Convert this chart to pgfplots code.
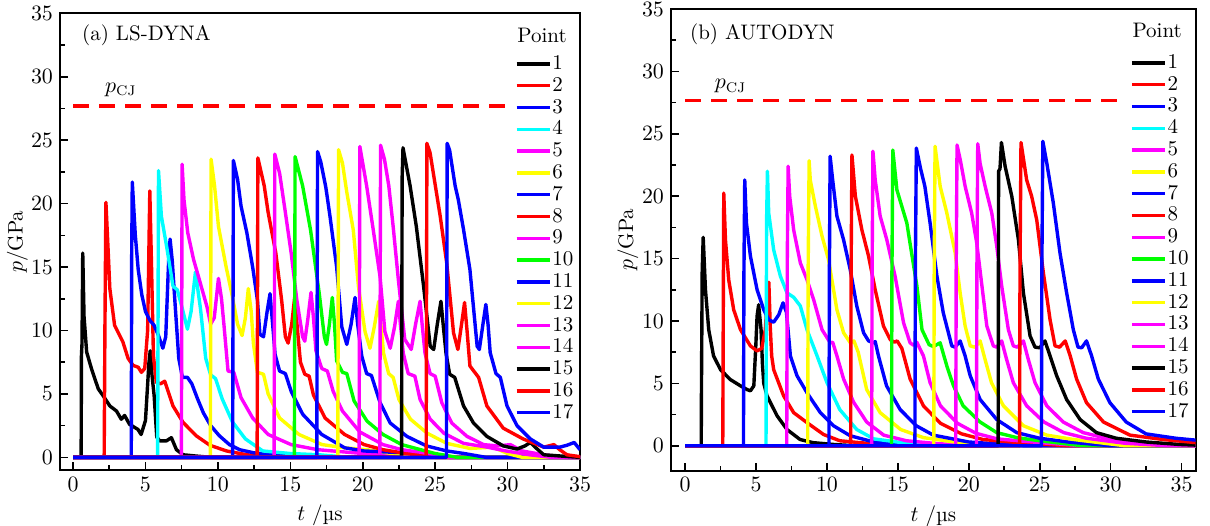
\documentclass[border=0pt]{standalone}
\usepackage{pgfplots}
\pgfplotsset{compat=1.18}
\definecolor{cR}{RGB}{255,0,0}
\definecolor{cB}{RGB}{0,0,255}
\definecolor{cC}{RGB}{0,255,255}
\definecolor{cM}{RGB}{255,0,255}
\definecolor{cY}{RGB}{255,255,0}
\definecolor{cG}{RGB}{0,255,0}
\pgfplotsset{
 panel/.style={
  scale only axis, anchor=south west, ymax=35,
  xtick={0,5,...,35}, ytick={0,5,...,35},
  minor x tick num=1, minor y tick num=1,
  tick align=inside, xtick pos=left, ytick pos=left,
  major tick length=4pt, minor tick length=2.5pt,
  every tick/.style={black, line width=0.8pt},
  axis line style={line width=1pt},
  font=\fontsize{10.5}{12}\selectfont,
  tick label style={font=\fontsize{11}{13}\selectfont},
  xlabel={$t$ /µs}, ylabel={$p$/GPa},
  every axis y label/.style={at={(rel axis cs:-0.082,0.5)}, rotate=90, anchor=center},
  legend style={draw=none, fill=none, anchor=north east, inner sep=0pt, row sep=0.4pt,
    nodes={inner sep=0.5pt, text height=7.5pt, text depth=2pt},
    font=\fontsize{10.5}{12}\selectfont},
  legend cell align=left,
  legend image code/.code={\draw[##1] (0pt,0pt) -- (16.5pt,0pt);},
  every axis plot/.append style={line width=1.7pt, line join=round},
 },
 cj/.style={cR, line width=1.7pt, dash pattern=on 7.8pt off 5.2pt, forget plot},
}
\begin{document}
\begin{tikzpicture}
\useasboundingbox (0,0) rectangle (605pt,262.5pt);
% ---------------- (a) ----------------
\begin{axis}[panel, at={(30pt,27.5pt)}, width=260pt, height=228.35pt,
  xmin=-0.9, xmax=35, ymin=-1, legend style={at={(0.990,0.913)}}]
\addplot[cj] coordinates {(0,27.7)(29.9,27.7)};
\addplot[black] coordinates {(0,0)(0.56,0)(0.58,8)(0.62,9)(0.67,16.1)(0.76,11.1)(0.94,8.3)(1.27,7.0)(1.74,5.4)(2.08,4.85)(2.54,4.05)(3.0,3.65)(3.33,3.0)(3.56,3.3)(3.9,2.6)(4.48,2.2)(4.7,1.8)(5.0,2.9)(5.24,7.45)(5.33,8.4)(5.45,6.5)(5.6,4.85)(5.78,1.6)(5.98,1.3)(6.45,1.3)(6.79,1.55)(7.14,0.6)(7.6,0.2)(8.5,0.1)(9.5,0)(35,0)};
\addplot[cR] coordinates {(0,0)(2.15,0)(2.2,10)(2.27,20.1)(2.44,15.9)(2.54,13.3)(2.87,10.4)(3.44,9.1)(3.8,7.8)(4.14,7.25)(4.5,7.1)(4.72,6.7)(4.95,7.0)(5.15,10)(5.3,21.0)(5.42,15)(5.55,8)(5.75,5.9)(6.05,5.8)(6.33,6.0)(6.9,4.05)(7.6,2.75)(8.5,1.7)(9.45,0.95)(10.6,0.5)(12,0.2)(14,0)(35,0)};
\addplot[cB] coordinates {(0,0)(4.02,0)(4.05,16)(4.09,21.7)(4.3,17.5)(4.5,14.8)(4.75,12.8)(5.0,11.5)(5.3,10.8)(5.6,10.4)(5.9,9.6)(6.2,8.6)(6.4,9.5)(6.6,15.5)(6.7,17.2)(6.85,15.5)(7.05,12.0)(7.3,7.8)(7.55,6.3)(7.9,6.3)(8.2,5.8)(8.6,4.6)(9.0,3.5)(9.5,2.5)(10.1,1.7)(10.8,1.0)(11.5,0.6)(12.5,0.35)(14,0.2)(16,0.1)(18,0)(35,0)};
\addplot[cC] coordinates {(0,0)(5.84,0)(5.9,22.6)(6.1,19.0)(6.45,16.7)(6.9,13.5)(7.2,13.2)(7.55,11.7)(7.9,10.1)(8.15,11.5)(8.45,14.6)(8.8,11.7)(9.16,7.8)(9.5,6.5)(9.84,6.2)(10.3,4.6)(11.0,2.8)(11.9,1.45)(13.1,0.5)(15,0.3)(17,0.2)(19,0)(35,0)};
\addplot[cM] coordinates {(0,0)(7.48,0)(7.53,23.1)(7.66,20.3)(7.92,17.7)(8.32,15.6)(8.72,14.0)(9.24,11.9)(9.5,10.5)(9.75,11.0)(10.04,14.1)(10.25,12.5)(10.43,10.3)(10.7,6.8)(11.1,6.7)(11.6,4.7)(12.4,3.1)(13.47,1.8)(15.06,1.0)(16.9,0.6)(20,0.3)(24,0)(35,0)};
\addplot[cY] coordinates {(0,0)(9.48,0)(9.53,23.5)(9.77,21.4)(10.04,18.2)(10.57,15.0)(10.96,12.9)(11.36,10.5)(11.67,9.6)(11.9,11.0)(12.1,13.3)(12.3,11.5)(12.45,9.0)(12.73,6.7)(13.15,6.55)(13.47,5.0)(14.26,3.1)(15.6,1.8)(17.2,1.0)(18.75,0.75)(20.3,0.6)(22,0.3)(25,0)(35,0)};
\addplot[cB] coordinates {(0,0)(11.02,0)(11.07,23.4)(11.36,21.9)(11.6,19.8)(12.0,17.7)(12.4,15.0)(12.73,12.4)(12.9,9.7)(13.15,9.5)(13.4,11.5)(13.6,12.9)(13.78,10.5)(13.95,8.1)(14.26,6.8)(14.66,6.6)(15.06,5.2)(15.85,3.4)(17.17,1.8)(18.75,0.75)(20.1,0.5)(24,0.3)(26,0)(35,0)};
\addplot[cR] coordinates {(0,0)(12.71,0)(12.76,23.6)(13.2,21.4)(13.47,19.3)(14.0,16.1)(14.4,12.4)(14.66,9.5)(14.85,9.0)(15.1,10.5)(15.3,12.6)(15.5,10)(15.7,7.5)(16.0,6.55)(16.3,6.4)(16.6,4.9)(17.4,3.1)(18.75,1.8)(20.1,1.0)(21.4,0.6)(23,0.3)(25,0)(35,0)};
\addplot[cM] coordinates {(0,0)(13.88,0)(13.93,23.9)(14.26,22.4)(14.66,19.3)(15.06,16.1)(15.45,12.4)(15.85,9.5)(16.0,9.15)(16.2,10.8)(16.43,13.0)(16.6,11)(16.77,8.4)(17.17,7.0)(17.56,6.8)(17.96,5.2)(18.6,3.65)(19.8,2.0)(21.4,1.0)(22.7,0.6)(24,0.4)(26,0)(35,0)};
\addplot[cG] coordinates {(0,0)(15.28,0)(15.33,23.7)(15.85,21.4)(16.4,17.9)(17.0,12.9)(17.35,9.5)(17.5,8.9)(17.7,10.5)(17.9,12.6)(18.05,10.5)(18.2,7.6)(18.6,6.7)(18.9,6.6)(19.4,4.45)(20.3,2.85)(21.4,1.8)(22.7,1.0)(24,0.6)(25,0.3)(26.5,0)(35,0)};
\addplot[cB] coordinates {(0,0)(16.83,0)(16.88,24.1)(17.1,23.3)(17.45,21.3)(17.74,19.0)(18.2,15.0)(18.55,10.3)(18.9,8.9)(19.2,10.5)(19.47,12.6)(19.65,10.5)(19.93,8.0)(20.27,6.6)(20.6,6.45)(21.2,4.3)(21.9,2.7)(23.05,1.65)(24.4,0.9)(25.8,0.5)(27,0.3)(28.5,0)(35,0)};
\addplot[cY] coordinates {(0,0)(18.28,0)(18.33,24.25)(18.6,23.2)(18.9,20.9)(19.35,17.9)(19.7,13.5)(20.16,9.9)(20.5,8.6)(20.8,10.3)(21.1,12.3)(21.25,10.5)(21.44,8.2)(21.79,6.6)(22.1,6.3)(22.5,4.55)(23.3,3.0)(24.45,1.9)(25.8,1.1)(27.4,0.7)(29,0.8)(30,0.3)(31,0)(35,0)};
\addplot[cM] coordinates {(0,0)(19.75,0)(19.8,24.5)(20.27,21.4)(20.73,17.9)(21.2,14.2)(21.53,9.9)(21.9,8.6)(22.2,10.3)(22.46,12.3)(22.6,10.5)(22.8,8.2)(23.14,6.6)(23.6,6.4)(23.96,4.55)(24.66,3.0)(25.6,1.9)(26.96,1.1)(28.6,0.8)(29.9,0.5)(31.5,0.2)(33,0)(35,0)};
\addplot[cM] coordinates {(0,0)(21.18,0)(21.23,24.6)(21.5,23.5)(21.8,21.4)(22.1,18.2)(22.46,14.0)(22.9,9.3)(23.35,8.5)(23.65,10.5)(23.96,12.3)(24.1,10.5)(24.3,8.2)(24.65,6.6)(25.0,6.4)(25.46,4.3)(26.15,2.7)(27.2,1.65)(28.35,1.0)(29.3,0.9)(30.2,1.0)(31,0.5)(32.5,0.2)(34,0)(35,0)};
\addplot[black] coordinates {(0,0)(22.68,0)(22.72,22)(22.78,24.4)(23.27,21.4)(23.7,18.2)(24.2,13.5)(24.66,8.75)(24.9,8.5)(25.15,10.5)(25.4,12.3)(25.55,10.5)(25.75,8.2)(26.0,6.55)(26.35,6.3)(26.96,4.05)(27.65,2.7)(28.57,1.65)(29.7,0.9)(30.65,0.65)(31.2,0.9)(31.57,1.17)(32.0,0.7)(32.5,0.2)(34.3,0.05)(35,0)};
\addplot[cR] coordinates {(0,0)(24.38,0)(24.43,24.75)(24.65,24.0)(25.35,19.0)(25.8,15.3)(26.27,9.8)(26.57,8.5)(26.8,10.3)(27.03,12.2)(27.2,10)(27.4,7.2)(28.0,6.3)(28.57,4.05)(29.7,2.3)(31.07,1.45)(32.5,0.8)(33.2,1.0)(33.6,0.6)(34.1,0.2)(35,0.05)};
\addplot[cB] coordinates {(0,0)(25.78,0)(25.83,24.75)(26.0,24.2)(26.38,21.4)(26.6,20.3)(26.96,17.95)(27.4,14.8)(27.9,8.75)(28.05,8.5)(28.3,10.5)(28.5,12.05)(28.65,10.5)(28.8,8.25)(29.2,6.6)(29.5,6.3)(29.96,4.05)(30.65,2.5)(31.57,1.45)(32.5,0.8)(33.6,0.8)(34.1,0.95)(34.6,1.17)(35,0.6)};
\legend{1,2,3,4,5,6,7,8,9,10,11,12,13,14,15,16,17}
\node[anchor=base east] at (rel axis cs:0.988,0.936) {Point};
\node[anchor=base west] at (rel axis cs:0.029,0.94) {(a) LS-DYNA};
\node at (axis cs:3.3,29.0) {$p_{\mathrm{CJ}}$};
\end{axis}
% ---------------- (b) ----------------
\begin{axis}[panel, at={(335.5pt,27.15pt)}, width=262.35pt, height=230.85pt,
  xmin=-1, xmax=36, ymin=-2, legend style={at={(0.989,0.907)}}]
\addplot[cj] coordinates {(0,27.66)(30.6,27.66)};
\addplot[black] coordinates {(0,0)(1.13,0)(1.15,5.0)(1.2,14)(1.27,16.7)(1.43,12.5)(1.66,9.3)(2.0,7.2)(2.49,6.1)(3.19,5.3)(3.9,4.8)(4.37,4.5)(4.6,4.4)(4.84,4.8)(4.98,8)(5.07,10.4)(5.18,11.3)(5.35,9.3)(5.45,6.5)(5.54,5.0)(5.77,4.0)(6.48,2.4)(7.18,1.3)(8.1,0.5)(9.0,0.25)(10.5,0.1)(12,0)(36,0)};
\addplot[cR] coordinates {(0,0)(2.65,0)(2.68,9)(2.72,20.25)(2.84,16.5)(3.07,13.3)(3.42,10.9)(3.9,9.3)(4.6,8.0)(5.07,7.6)(5.4,7.8)(5.65,9.3)(5.8,12)(5.9,13.1)(6.0,9.5)(6.1,7.2)(6.24,6.1)(6.94,4.0)(7.65,2.65)(8.59,1.85)(9.76,0.9)(10.9,0.4)(12.3,0.25)(15,0)(36,0)};
\addplot[cB] coordinates {(0,0)(4.11,0)(4.14,13.5)(4.2,21.3)(4.32,17.85)(4.6,15.2)(5.07,12.5)(5.54,10.9)(5.89,10.1)(6.24,9.9)(6.6,10.5)(6.9,11.45)(7.14,10.7)(7.42,7.2)(7.89,5.6)(8.59,4.25)(9.53,2.65)(10.46,1.6)(11.64,0.8)(13.3,0.3)(15,0.15)(17,0)(36,0)};
\addplot[cC] coordinates {(0,0)(5.7,0)(5.74,18)(5.8,22.0)(5.89,18.65)(6.24,15.7)(6.71,13.6)(7.18,12.25)(7.65,11.9)(8.12,11.2)(8.59,9.3)(9.3,7.2)(10.0,5.05)(10.9,2.9)(12.1,1.3)(13.3,0.55)(15.6,0.2)(18,0)(36,0)};
\addplot[cM] coordinates {(0,0)(7.16,0)(7.2,15)(7.26,22.4)(7.37,20.0)(7.65,17.3)(8.12,14.65)(8.59,13.3)(9.06,11.7)(9.65,9.3)(10.23,8.25)(10.4,8.3)(10.7,7.2)(11.17,5.35)(11.87,3.5)(12.8,1.9)(14.0,0.85)(15.6,0.4)(17.5,0.2)(20,0)(36,0)};
\addplot[cY] coordinates {(0,0)(8.64,0)(8.67,14)(8.74,22.85)(8.82,21.3)(9.18,19.2)(9.65,16.8)(10.11,14.9)(10.7,10.9)(11.17,9.05)(11.64,8.25)(11.9,8.4)(12.2,7.5)(12.8,4.5)(13.75,2.65)(15.2,1.3)(16.8,0.65)(19,0.3)(22,0)(36,0)};
\addplot[cB] coordinates {(0,0)(10.14,0)(10.17,14)(10.22,23.2)(10.4,21.3)(10.7,18.4)(11.17,16.5)(11.64,14.1)(12.1,11.2)(12.58,9.05)(12.93,8.4)(13.28,8.25)(13.4,8.35)(13.63,7.2)(14.2,4.8)(15.16,2.9)(16.3,1.6)(17.5,0.85)(20,0.3)(24,0)(36,0)};
\addplot[cR] coordinates {(0,0)(11.67,0)(11.7,14)(11.76,23.3)(12.0,20.0)(12.46,17.3)(12.93,15.2)(13.4,12.5)(13.98,9.6)(14.46,8.5)(14.75,8.3)(14.95,8.4)(15.28,7.8)(15.86,5.35)(16.8,3.2)(18.0,1.8)(19.5,0.95)(21,0.5)(24,0.2)(27,0)(36,0)};
\addplot[cM] coordinates {(0,0)(13.15,0)(13.18,14)(13.24,23.6)(13.4,21.3)(13.75,18.4)(14.22,16.5)(14.8,13.6)(15.4,9.85)(15.86,8.25)(16.1,8.05)(16.33,8.3)(16.8,7.2)(17.27,5.05)(18.0,3.2)(19.2,1.8)(20.5,1.0)(22,0.55)(25,0.25)(28,0)(36,0)};
\addplot[cG] coordinates {(0,0)(14.55,0)(14.58,14)(14.64,23.7)(14.93,20.5)(15.63,17.85)(16.0,15.2)(16.34,12.8)(16.7,9.3)(17.2,8.1)(17.5,7.95)(17.98,8.25)(18.45,6.4)(18.92,4.8)(19.6,3.2)(20.8,1.9)(21.97,1.05)(23.4,0.65)(25,0.4)(28,0)(36,0)};
\addplot[cB] coordinates {(0,0)(16.2,0)(16.23,14)(16.3,23.85)(16.6,22.2)(16.9,20.8)(17.27,17.85)(17.75,13.6)(18.2,10.65)(18.8,8.0)(19.04,7.9)(19.39,8.4)(19.74,7.2)(20.1,5.6)(20.8,3.7)(21.97,2.1)(23.38,1.05)(25,0.6)(27,0.3)(30,0)(36,0)};
\addplot[cY] coordinates {(0,0)(17.53,0)(17.56,14)(17.62,24.0)(17.98,20.8)(18.45,18.65)(19.04,15.45)(19.39,12.25)(19.74,9.6)(20.1,8.0)(20.44,7.9)(20.8,8.4)(21.15,6.9)(21.6,5.05)(22.44,3.2)(23.85,1.6)(25.5,0.85)(27.4,0.5)(31,0)(36,0)};
\addplot[cM] coordinates {(0,0)(19.08,0)(19.11,14)(19.17,24.1)(19.4,22.9)(19.74,20.8)(20.2,18.65)(20.56,16.25)(20.9,13.05)(21.27,9.6)(21.73,8.0)(21.97,7.9)(22.32,8.4)(22.67,6.9)(23.14,5.05)(24.08,3.2)(25.3,1.9)(26.7,1.05)(28.3,0.6)(31,0.2)(34,0)(36,0)};
\addplot[cM] coordinates {(0,0)(20.54,0)(20.57,14)(20.63,24.2)(20.8,22.6)(21.15,20.8)(21.62,18.65)(21.97,16.0)(22.32,12.8)(22.79,9.3)(23.14,8.0)(23.43,7.9)(23.85,8.4)(24.2,6.9)(24.67,5.05)(25.5,3.2)(26.66,1.9)(28.07,1.05)(29.7,0.6)(33,0.2)(36,0)};
\addplot[black] coordinates {(0,0)(22.07,0)(22.1,22)(22.2,22.2)(22.3,24.3)(22.56,22.4)(23.03,20.0)(23.5,16.5)(23.85,12.25)(24.32,8.8)(24.67,7.9)(25.0,7.85)(25.37,8.4)(25.73,7.2)(26.2,5.6)(26.9,3.7)(27.85,2.1)(29.0,1.05)(30.4,0.6)(32.5,0.3)(34.9,0.1)(36,0.05)};
\addplot[cR] coordinates {(0,0)(23.58,0)(23.61,14)(23.68,24.3)(24.08,21.3)(24.43,20.0)(24.79,18.1)(25.26,13.85)(25.73,10.1)(26.08,8.0)(26.4,7.9)(26.8,8.4)(27.15,7.2)(27.6,5.35)(28.3,3.45)(29.5,1.9)(31.37,0.85)(33.7,0.5)(36,0.25)};
\addplot[cB] coordinates {(0,0)(25.12,0)(25.15,14)(25.22,24.4)(25.5,22.65)(25.96,19.45)(26.43,15.45)(26.9,12.25)(27.37,9.3)(27.7,7.9)(27.96,7.85)(28.3,8.4)(28.66,7.2)(29.13,5.35)(29.95,3.45)(31.1,1.9)(32.5,0.95)(34.6,0.6)(36,0.45)};
\legend{1,2,3,4,5,6,7,8,9,10,11,12,13,14,15,16,17}
\node[anchor=base east] at (rel axis cs:0.987,0.939) {Point};
\node[anchor=base west] at (rel axis cs:0.023,0.933) {(b) AUTODYN};
\node at (axis cs:3.2,28.8) {$p_{\mathrm{CJ}}$};
\end{axis}
\end{tikzpicture}
\end{document}
